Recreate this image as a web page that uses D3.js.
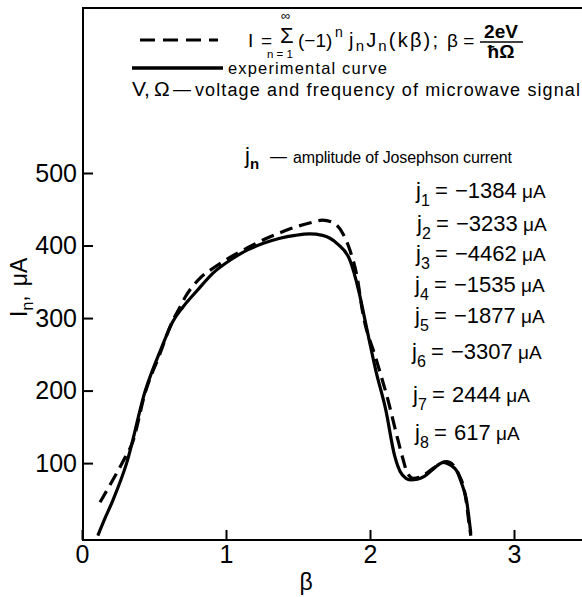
<!DOCTYPE html>
<html>
<head>
<meta charset="utf-8">
<script src="https://cdn.jsdelivr.net/npm/d3@7"></script>
<style>
  body { margin: 0; background: #fff; }
  svg { display: block; }
  text { font-family: "Liberation Sans", Arial, Helvetica, sans-serif; fill: #000; }
</style>
</head>
<body>
<div id="viz-container"></div>
<script>
// experimental curve (solid)
const betaExp = [0.11, 0.16, 0.215, 0.31, 0.44, 0.55, 0.63, 0.70, 0.80, 0.91, 1.03, 1.15, 1.26, 1.375, 1.48, 1.58, 1.67, 1.77, 1.86, 1.92, 1.98, 2.04, 2.11, 2.17, 2.21, 2.25, 2.28, 2.33, 2.38, 2.44, 2.51, 2.56, 2.60, 2.64, 2.67, 2.70];
const iExp    = [0, 24, 49, 100, 200, 258, 295, 315, 338, 362, 380, 394, 403, 410, 414, 416, 414, 403, 380, 339, 283, 228, 173, 111, 88, 79, 77, 78, 82, 92, 101, 97, 90, 70, 49, 3];

// calculated curve (dashed)
const betaTh = [0.125, 0.215, 0.30, 0.35, 0.44, 0.54, 0.62, 0.68, 0.72, 0.82, 0.92, 1.03, 1.15, 1.26, 1.38, 1.49, 1.58, 1.67, 1.74, 1.81, 1.86, 1.91, 1.95, 2.04, 2.125, 2.19, 2.23, 2.26, 2.30, 2.36, 2.44, 2.53, 2.58, 2.62, 2.65, 2.67, 2.685, 2.70];
const iTh    = [46, 77, 108, 128, 198, 250, 292, 315, 330, 355, 370, 384, 397, 408, 418, 426, 431, 435, 432, 417, 394, 357, 307, 245, 187, 135, 105, 86, 79, 82, 93, 102, 97, 83, 67, 45, 21, 0];

// tick labels
const xTicks = [0, 1, 2, 3];
const yTicks = [100, 200, 300, 400, 500];

// Josephson current amplitudes
const jIndex = [1, 2, 3, 4, 5, 6, 7, 8];
const jValue = [-1384, -3233, -4462, -1535, -1877, -3307, 2444, 617];

// layout of the j list (baselines, left x)
const jRowY = [198, 231, 261, 292, 323, 359, 402, 440];
const jRowX = [416, 417, 416, 415, 415, 412, 413, 415];

const W = 582, H = 597;

const svg = d3.select("#viz-container")
    .append("svg")
    .attr("width", W)
    .attr("height", H);

const x = d3.scaleLinear().domain([0, 3.5]).range([82, 586]);
const y = d3.scaleLinear().domain([-6, 500]).range([540, 173]);

// frame
svg.append("path")
    .attr("d", `M${W + 10},8 H83 V540 H${W + 10}`)
    .attr("fill", "none")
    .attr("stroke", "#000")
    .attr("stroke-width", 2);

// axes (ticks point inward)
const yAxis = svg.append("g")
    .attr("transform", "translate(83,0)")
    .call(d3.axisLeft(y).tickValues(yTicks).tickSize(-10).tickPadding(6));
yAxis.select(".domain").remove();
yAxis.selectAll("line").attr("stroke-width", 2);
yAxis.selectAll("text").attr("font-size", 25).attr("fill", "#000")
    .style("font-family", "'Liberation Sans', Arial, sans-serif");

const xAxis = svg.append("g")
    .attr("transform", "translate(0,540)")
    .call(d3.axisBottom(x).tickValues(xTicks).tickSize(-10).tickPadding(5).tickFormat(d3.format("d")));
xAxis.select(".domain").remove();
xAxis.selectAll("line").attr("stroke-width", 2);
xAxis.selectAll("text").attr("font-size", 25).attr("fill", "#000")
    .style("font-family", "'Liberation Sans', Arial, sans-serif");

// curves
const line = d3.line()
    .x(d => x(d[0]))
    .y(d => y(d[1]))
    .curve(d3.curveMonotoneX);

svg.append("path")
    .datum(d3.zip(betaExp, iExp))
    .attr("fill", "none")
    .attr("stroke", "#000")
    .attr("stroke-width", 3.2)
    .attr("d", line);

svg.append("path")
    .datum(d3.zip(betaTh, iTh))
    .attr("fill", "none")
    .attr("stroke", "#000")
    .attr("stroke-width", 3.2)
    .attr("stroke-dasharray", "13,7")
    .attr("d", line);

// axis titles
svg.append("text")
    .attr("x", 306)
    .attr("y", 590)
    .attr("text-anchor", "middle")
    .attr("font-size", 23)
    .text("β");

const yl = svg.append("text")
    .attr("transform", "translate(27,317) rotate(-90)")
    .attr("font-size", 23);
yl.append("tspan").text("I");
yl.append("tspan").attr("font-size", 16).attr("dy", 6).text("n");
yl.append("tspan").attr("dy", -6).text(",");
yl.append("tspan").attr("dx", 9).text("μA");

// legend: dashed sample + formula
svg.append("line")
    .attr("x1", 140).attr("x2", 218).attr("y1", 40).attr("y2", 40)
    .attr("stroke", "#000").attr("stroke-width", 3.2)
    .attr("stroke-dasharray", "15,8");

svg.append("text").attr("x", 248).attr("y", 47).attr("font-size", 19).text("I");
svg.append("text").attr("x", 261).attr("y", 47).attr("font-size", 19).text("=");
svg.append("text").attr("x", 280).attr("y", 43).attr("font-size", 22).text("Σ");
svg.append("text").attr("x", 281).attr("y", 20).attr("font-size", 13).text("∞");
svg.append("text").attr("x", 267).attr("y", 58).attr("font-size", 11.5).text("n = 1");

svg.append("text").attr("x", 298).attr("y", 47).attr("font-size", 19).text("(−1)");
svg.append("text").attr("x", 335).attr("y", 37).attr("font-size", 14).text("n");

const f = svg.append("text").attr("x", 349).attr("y", 47).attr("font-size", 20)
    .attr("textLength", 89).attr("lengthAdjust", "spacing");
f.append("tspan").text("j");
f.append("tspan").attr("font-size", 15).attr("dy", 4).text("n");
f.append("tspan").attr("dy", -4).text("J");
f.append("tspan").attr("font-size", 15).attr("dy", 4).text("n");
f.append("tspan").attr("dy", -4).text("(kβ);");

svg.append("text").attr("x", 447).attr("y", 47).attr("font-size", 19).text("β =");
svg.append("text").attr("x", 501).attr("y", 38).attr("font-size", 19)
    .attr("text-anchor", "middle").attr("font-weight", "bold").text("2eV");
svg.append("line")
    .attr("x1", 480).attr("x2", 523).attr("y1", 42).attr("y2", 42)
    .attr("stroke", "#000").attr("stroke-width", 1.6);
svg.append("text").attr("x", 501).attr("y", 58).attr("font-size", 19)
    .attr("text-anchor", "middle").attr("font-weight", "bold").text("ħΩ");

// legend: solid sample
svg.append("line")
    .attr("x1", 132).attr("x2", 223).attr("y1", 68).attr("y2", 68)
    .attr("stroke", "#000").attr("stroke-width", 3.5);
svg.append("text").attr("x", 228).attr("y", 74).attr("font-size", 16.5)
    .attr("textLength", 159).attr("lengthAdjust", "spacing").text("experimental curve");

// notes
svg.append("text").attr("x", 132).attr("y", 96).attr("font-size", 21).text("V,");
svg.append("text").attr("x", 154).attr("y", 96).attr("font-size", 21).text("Ω");
svg.append("text").attr("x", 173).attr("y", 95).attr("font-size", 18).text("—");
svg.append("text").attr("x", 195).attr("y", 96).attr("font-size", 18)
    .attr("textLength", 385).attr("lengthAdjust", "spacing")
    .text("voltage and frequency of microwave signal");

const n2 = svg.append("text").attr("x", 245).attr("y", 163).attr("font-size", 22);
n2.append("tspan").text("j");
n2.append("tspan").attr("font-size", 15).attr("dy", 6).attr("font-weight", "bold").text("n");
svg.append("text").attr("x", 270).attr("y", 162).attr("font-size", 17).text("—");
svg.append("text").attr("x", 293).attr("y", 163).attr("font-size", 16)
    .attr("textLength", 219).attr("lengthAdjust", "spacing")
    .text("amplitude of Josephson current");

// j list
jIndex.forEach((k, i) => {
    const t = svg.append("text")
        .attr("x", jRowX[i])
        .attr("y", jRowY[i])
        .attr("font-size", 22);
    t.append("tspan").text("j");
    t.append("tspan").attr("font-size", 16).attr("dy", 8).text(k);
    t.append("tspan").attr("dy", -8).attr("x", jRowX[i] + 19).text("=");
    t.append("tspan").attr("x", jRowX[i] + 39)
        .text(d3.format("d")(jValue[i]).replace("-", "−"));
    t.append("tspan").attr("font-size", 19).text(" μA");
});
</script>
</body>
</html>
